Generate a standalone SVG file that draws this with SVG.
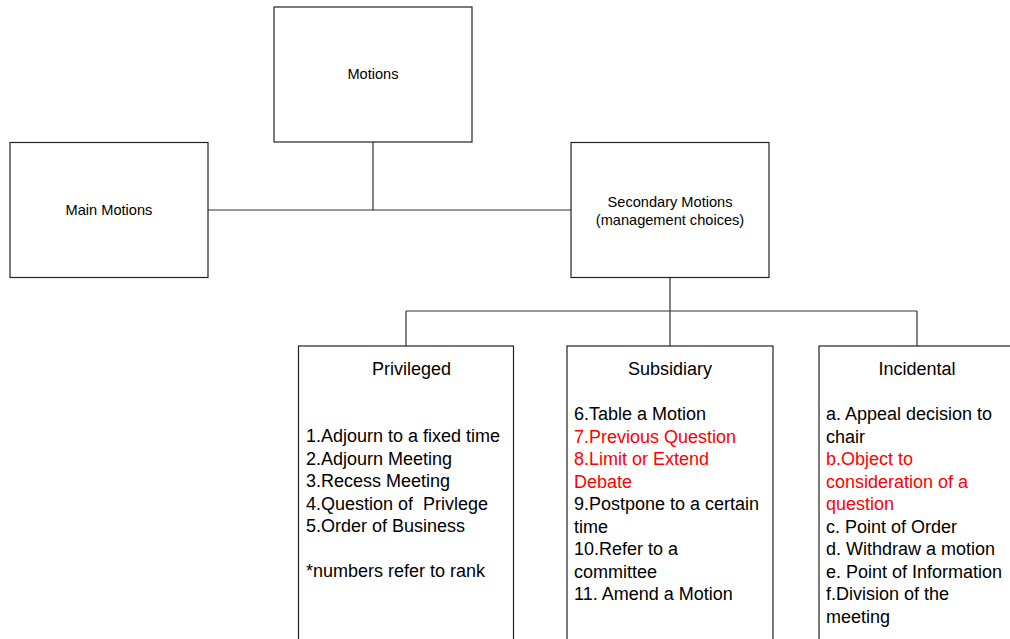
<svg xmlns="http://www.w3.org/2000/svg" width="1010" height="639" viewBox="0 0 1010 639">
<style>
.box{fill:#fff;stroke:#222;stroke-width:1.2}
.conn{fill:none;stroke:#333;stroke-width:1.2}
.sm{font-family:"Liberation Sans",Arial,sans-serif;font-size:14.6px;fill:#000}
.lg{font-family:"Liberation Sans",Arial,sans-serif;font-size:18px;fill:#000}
.red{fill:#ff0000}
.c{text-anchor:middle}
</style>
<rect width="1010" height="639" fill="#fff"/>
<g id="connectors">
<path class="conn" d="M373 142V210M208 210H571"/>
<path class="conn" d="M670 278V346M406 311H917M406 311V346M917 311V346"/>
</g>
<g id="motions">
<rect class="box" x="274" y="7" width="198" height="135"/>
<text class="sm c" x="373" y="79">Motions</text>
</g>
<g id="main-motions">
<rect class="box" x="10" y="142.5" width="198" height="135"/>
<text class="sm c" x="109" y="215">Main Motions</text>
</g>
<g id="secondary-motions">
<rect class="box" x="571" y="142.5" width="198" height="135"/>
<text class="sm c" x="670" y="206.5">Secondary Motions</text>
<text class="sm c" x="670" y="224.5">(management choices)</text>
</g>
<g id="privileged">
<rect class="box" x="298.5" y="346" width="215" height="300"/>
<text class="lg c" x="411.5" y="375">Privileged</text>
<text class="lg" x="306" y="442">1.Adjourn to a fixed time</text>
<text class="lg" x="306" y="464.5">2.Adjourn Meeting</text>
<text class="lg" x="306" y="487">3.Recess Meeting</text>
<text class="lg" x="306" y="509.5" xml:space="preserve">4.Question of  Privlege</text>
<text class="lg" x="306" y="532">5.Order of Business</text>
<text class="lg" x="306" y="577">*numbers refer to rank</text>
</g>
<g id="subsidiary">
<rect class="box" x="567" y="346" width="206" height="300"/>
<text class="lg c" x="670" y="375">Subsidiary</text>
<text class="lg" x="574" y="420">6.Table a Motion</text>
<text class="lg red" x="574" y="442.5">7.Previous Question</text>
<text class="lg red" x="574" y="465">8.Limit or Extend</text>
<text class="lg red" x="574" y="487.5">Debate</text>
<text class="lg" x="574" y="510">9.Postpone to a certain</text>
<text class="lg" x="574" y="532.5">time</text>
<text class="lg" x="574" y="555">10.Refer to a</text>
<text class="lg" x="574" y="577.5">committee</text>
<text class="lg" x="574" y="600">11. Amend a Motion</text>
</g>
<g id="incidental">
<rect class="box" x="819" y="346" width="198" height="300"/>
<text class="lg c" x="917" y="375">Incidental</text>
<text class="lg" x="826" y="420">a. Appeal decision to</text>
<text class="lg" x="826" y="442.5">chair</text>
<text class="lg red" x="826" y="465">b.Object to</text>
<text class="lg red" x="826" y="487.5">consideration of a</text>
<text class="lg red" x="826" y="510">question</text>
<text class="lg" x="826" y="532.5">c. Point of Order</text>
<text class="lg" x="826" y="555">d. Withdraw a motion</text>
<text class="lg" x="826" y="577.5">e. Point of Information</text>
<text class="lg" x="826" y="600">f.Division of the</text>
<text class="lg" x="826" y="622.5">meeting</text>
</g>
</svg>
